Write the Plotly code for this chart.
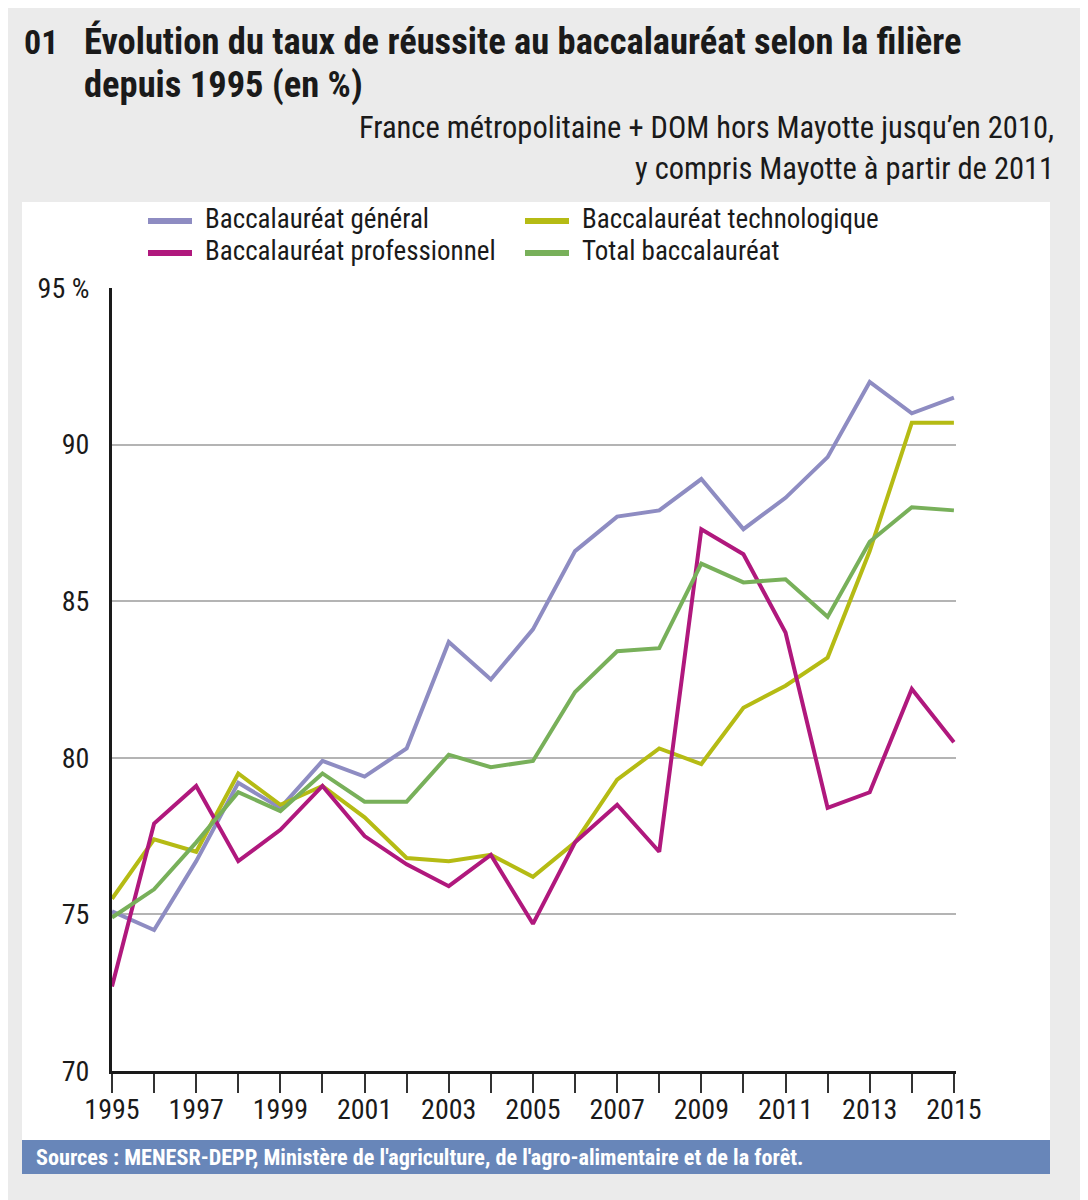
import plotly.graph_objects as go

years = list(range(1995, 2016))

general = [75.1, 74.5, 76.7, 79.2, 78.4, 79.9, 79.4, 80.3, 83.7, 82.5, 84.1,
           86.6, 87.7, 87.9, 88.9, 87.3, 88.3, 89.6, 92.0, 91.0, 91.5]
techno = [75.5, 77.4, 77.0, 79.5, 78.5, 79.1, 78.1, 76.8, 76.7, 76.9, 76.2,
          77.3, 79.3, 80.3, 79.8, 81.6, 82.3, 83.2, 86.6, 90.7, 90.7]
pro = [72.7, 77.9, 79.1, 76.7, 77.7, 79.1, 77.5, 76.6, 75.9, 76.9, 74.7,
       77.3, 78.5, 77.0, 87.3, 86.5, 84.0, 78.4, 78.9, 82.2, 80.5]
total = [74.9, 75.8, 77.3, 78.9, 78.3, 79.5, 78.6, 78.6, 80.1, 79.7, 79.9,
         82.1, 83.4, 83.5, 86.2, 85.6, 85.7, 84.5, 86.9, 88.0, 87.9]

series = [
    ('Baccalauréat général', general, '#8e8cc2'),
    ('Baccalauréat technologique', techno, '#b5bb14'),
    ('Baccalauréat professionnel', pro, '#b0187d'),
    ('Total baccalauréat', total, '#78b05a'),
]

y_ticks = [70, 75, 80, 85, 90, 95]
y_text = ['70', '75', '80', '85', '90', '95 %']
x_text = [str(y) if y % 2 == 1 else '' for y in years]

FONT = 'Liberation Sans Narrow, Roboto Condensed, Liberation Sans, Arial'
# page body has an 8px margin, so the figure is shifted by OFF
OFF = 8
W, H = 1080, 1192


def px(x):
    return (x - OFF) / W


def py(y):
    return 1 - (y - OFF) / H


fig = go.Figure()
for name, vals, color in series:
    fig.add_trace(go.Scatter(x=years, y=vals, mode='lines', name=name,
                             line=dict(color=color, width=4),
                             showlegend=False))

shapes = [
    # white panel
    dict(type='rect', xref='paper', yref='paper', x0=px(22), x1=px(1050),
         y0=py(1140), y1=py(202), fillcolor='white', line_width=0, layer='below'),
    # source bar
    dict(type='rect', xref='paper', yref='paper', x0=px(22), x1=px(1050),
         y0=py(1174), y1=py(1140), fillcolor='#6886b9', line_width=0, layer='below'),
]


def note(text, x, y, size, anchor='left', color='#1a1a1a'):
    return dict(text=text, xref='paper', yref='paper', x=px(x), y=py(y),
                xanchor=anchor, yanchor='middle', showarrow=False,
                font=dict(size=size, color=color))


annotations = [
    note('<b>01</b>', 22, 42, 34),
    note('<b>Évolution du taux de réussite au baccalauréat selon la filière</b>', 82, 42, 36.5),
    note('<b>depuis 1995 (en %)</b>', 82, 85, 36.5),
    note('France métropolitaine + DOM hors Mayotte jusqu’en 2010,', 1056, 128, 30.5, 'right'),
    note('y compris Mayotte à partir de 2011', 1056, 168, 30.5, 'right'),
    note('<b>Sources : MENESR-DEPP, Ministère de l\'agriculture, de l\'agro-alimentaire et de la forêt.</b>',
         34, 1157, 22.2, color='white'),
]

# manual legend, two columns
legend_pos = [(148, 219), (525, 219), (148, 251), (525, 251)]
for (name, vals, color), (lx, ly) in zip(series, legend_pos):
    shapes.append(dict(type='line', xref='paper', yref='paper',
                       x0=px(lx), x1=px(lx + 44), y0=py(ly + 2), y1=py(ly + 2),
                       line=dict(color=color, width=6)))
    annotations.append(note(name, lx + 55, ly, 27))

fig.update_layout(
    template='none',
    width=W, height=H, autosize=False,
    margin=dict(l=0, r=0, t=0, b=0, pad=0),
    paper_bgcolor='#ebebeb', plot_bgcolor='white',
    font=dict(family=FONT, size=24, color='#1a1a1a'),
    shapes=shapes, annotations=annotations,
    xaxis=dict(domain=[px(112), px(956)], range=[1995, 2015.05],
               tickvals=years, ticktext=x_text, ticks='outside', ticklen=19,
               tickwidth=1.5, tickcolor='#333333', showgrid=False,
               showline=True, linecolor='#1a1a1a', linewidth=3,
               zeroline=False, automargin=False, ticklabelstandoff=-8,
               tickfont=dict(size=28)),
    yaxis=dict(domain=[py(1071), py(288)], range=[70, 95],
               tickvals=y_ticks, ticktext=y_text, ticks='',
               showgrid=True, gridcolor='#b4b4b4', gridwidth=1.5,
               showline=True, linecolor='#1a1a1a', linewidth=3,
               zeroline=False, automargin=False, ticklabelstandoff=14,
               tickfont=dict(size=28)),
)

fig.write_html('out.html')
